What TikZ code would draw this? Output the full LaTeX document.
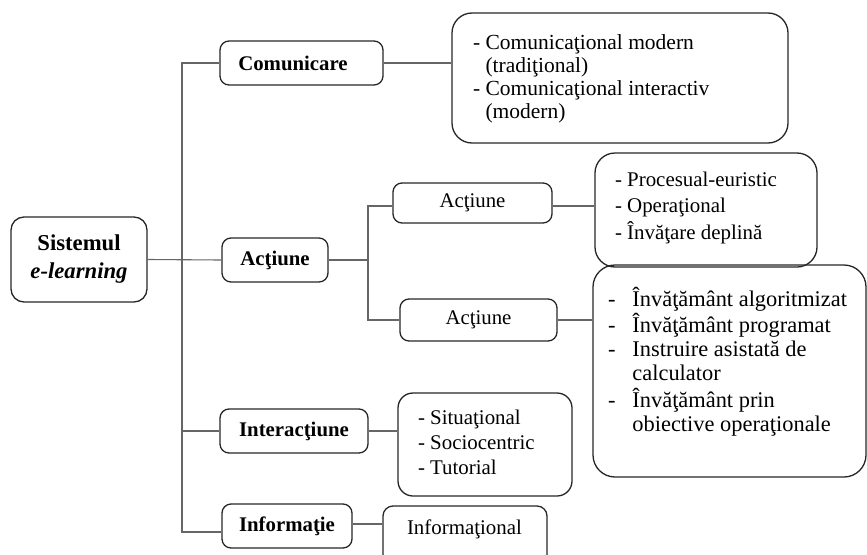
\documentclass[tikz,border=0pt]{standalone}
\usepackage{fontspec}
\setmainfont{Liberation Serif}
\usepackage{array}
% #1 width, #2 height, #3 left pad, #4 first baseline offset, #5 font size, #6 row pitch, #7 content
\newcommand{\lst}[7]{\parbox[c][#2][t]{#1}{\fontsize{#5}{#6}\selectfont\vspace*{\dimexpr#4-#6*7/10\relax}\hspace*{#3}#7}}
\tikzset{
  bx/.style={draw=black!85, line width=1.3pt, rounded corners=9pt, inner sep=0pt,
             font=\fontsize{20.8}{24}\selectfont\bfseries},
  bxr/.style={bx, font=\fontsize{20.8}{24}\selectfont\mdseries},
  ln/.style={draw=black!60, line width=1.1pt},
}
\begin{document}
\begin{tikzpicture}[x=1pt,y=-1pt]
\useasboundingbox (0,0) rectangle (867,554);
\clip (0,0) rectangle (867,554);
% main nodes
\node[bx, minimum width=136pt, minimum height=85pt, rounded corners=13pt, align=center,
      font=\fontsize{22.7}{28}\selectfont\bfseries] (sys) at (79,259.5) {Sistemul\\\textit{e-learning}};
\node[bx, minimum width=163pt, minimum height=44pt] (com) at (301.5,63) {\hspace*{-17pt}Comunicare};
\node[bx, minimum width=106pt, minimum height=44pt] (act) at (275,260) {Acţiune};
\node[bx, minimum width=148pt, minimum height=44pt] (inter) at (294,431) {Interacţiune};
\node[bx, minimum width=130pt, minimum height=44pt] (info) at (287,526) {Informaţie};
% second level
\node[bxr, minimum width=159pt, minimum height=40pt] (a1) at (472.5,203) {Acţiune};
\node[bxr, minimum width=157pt, minimum height=42pt] (a2) at (478.5,320) {Acţiune};
% lists
\node[bxr, rounded corners=20pt] (comlist) at (620,78)
  {\lst{336pt}{130pt}{21pt}{36pt}{21.5}{23pt}{\begin{tabular}[t]{@{}l@{\ }l@{}}-&Comunicaţional modern\\&(tradiţional)\\-&Comunicaţional interactiv\\&(modern)\end{tabular}}};
\node[bxr, rounded corners=20pt] (proc) at (706,210)
  {\lst{222pt}{114pt}{20pt}{33pt}{20.9}{26.5pt}{\begin{tabular}[t]{@{}l@{}}- Procesual-euristic\\- Operaţional\\- Învăţare deplină\end{tabular}}};
\node[bxr, rounded corners=22pt] (inv) at (729.5,371)
  {\lst{273pt}{212pt}{15pt}{39pt}{22.4}{24pt}{\begin{tabular}[t]{@{}l@{\hspace{17pt}}l@{}}-&Învăţământ algoritmizat\\-&Învăţământ programat\\-&Instruire asistată de\\&calculator\\-&Învăţământ prin\\&obiective operaţionale\end{tabular}}};
\node[bxr, rounded corners=15pt] (interlist) at (485,444.5)
  {\lst{174pt}{103pt}{20pt}{31pt}{20.9}{25pt}{\begin{tabular}[t]{@{}l@{}}- Situaţional\\- Sociocentric\\- Tutorial\end{tabular}}};
\node[bxr, rounded corners=10pt] (infolist) at (465,538)
  {\lst{164pt}{64pt}{24pt}{31pt}{20.9}{24pt}{Informaţional}};
% connectors
\coordinate (t1) at (182,63);
\coordinate (t4) at (182,532);
\coordinate (s1) at (368,206);
\coordinate (s2) at (368,320);
\draw[ln] (com.west) -- (t1) -- (t4) -- (t4 -| info.west);
\draw[ln] (sys.east) -- (act.west);
\draw[ln] (inter.west) -- (inter.west -| t1);
\draw[ln] (act.east) -- (act.east -| s1);
\draw[ln] (a1.west |- s1) -- (s1) -- (s2) -- (a2.west |- s2);
\draw[ln] (com.east) -- (com.east -| comlist.west);
\draw[ln] (a1.east |- s1) -- (s1 -| proc.west);
\draw[ln] (a2.east) -- (a2.east -| inv.west);
\draw[ln] (inter.east) -- (inter.east -| interlist.west);
\draw[ln] (info.east |- 0,524) -- (infolist.west |- 0,524);
\end{tikzpicture}
\end{document}
